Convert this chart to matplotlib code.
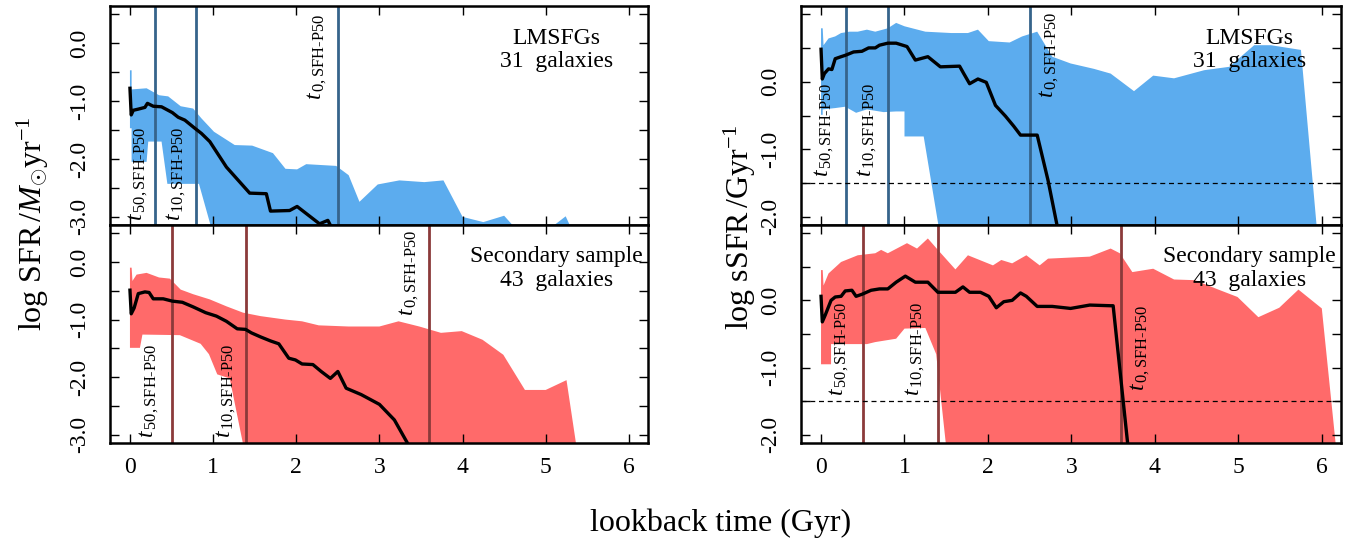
import matplotlib
matplotlib.use("Agg")
import matplotlib.pyplot as plt
import numpy as np

#---------------------------------------#
# DATA
#---------------------------------------#
# vertical marker times (Gyr)
LMSFG_T = [0.3, 0.8, 2.5]
SEC_T = [0.5, 1.4, 3.6]

# LMSFGs, log SFR : median and 16-84 envelope
tl_med_t = [0.0, 0.015, 0.04, 0.1, 0.18, 0.21, 0.28, 0.38, 0.51, 0.58, 0.66, 0.78, 0.86, 0.96,
            1.16, 1.44, 1.64, 1.69, 1.92, 2.01, 2.28, 2.38, 2.43]
tl_med = [-0.78, -1.24, -1.16, -1.14, -1.11, -1.04, -1.09, -1.10, -1.20, -1.28, -1.33, -1.47,
          -1.56, -1.70, -2.14, -2.59, -2.60, -2.90, -2.89, -2.82, -3.12, -3.06, -3.20]
tl_up_t = [0.0, 0.02, 0.02, 0.2, 0.35, 0.46, 0.61, 0.76, 0.86, 1.01, 1.26, 1.47, 1.72, 1.87, 2.01,
           2.12, 2.48, 2.63, 2.76, 2.98, 3.24, 3.54, 3.77, 4.0, 4.25, 4.5, 4.7, 4.96, 5.24, 5.34]
tl_up = [-0.47, -0.47, -0.8, -0.78, -0.9, -0.92, -1.09, -1.13, -1.3, -1.53, -1.76, -1.77, -1.9,
         -2.17, -2.18, -2.09, -2.12, -2.28, -2.74, -2.44, -2.37, -2.40, -2.37, -3.0, -3.09,
         -2.98, -3.3, -3.3, -2.99, -3.3]
tl_lo_t = [0.0, 0.02, 0.02, 0.2, 0.22, 0.38, 0.45, 0.83, 1.0, 5.34]
tl_lo = [-1.47, -1.47, -2.05, -2.05, -1.7, -1.7, -2.43, -2.43, -3.3, -3.3]

# LMSFGs, log sSFR
tr_med_t = [0.0, 0.015, 0.04, 0.09, 0.13, 0.17, 0.24, 0.29, 0.39, 0.49, 0.57, 0.65, 0.70, 0.80,
            0.90, 1.03, 1.13, 1.28, 1.43, 1.66, 1.71, 1.78, 1.88, 1.98, 2.09, 2.21, 2.31, 2.39,
            2.49, 2.59, 2.72, 2.84]
tr_med = [0.48, 0.04, 0.12, 0.19, 0.18, 0.34, 0.37, 0.39, 0.44, 0.45, 0.50, 0.50, 0.54, 0.57,
          0.57, 0.52, 0.32, 0.37, 0.22, 0.23, 0.12, -0.03, 0.04, -0.01, -0.35, -0.51, -0.66,
          -0.79, -0.79, -0.79, -1.46, -2.2]
tr_up_t = [0.0, 0.02, 0.03, 0.09, 0.17, 0.24, 0.34, 0.44, 0.55, 0.65, 0.80, 0.90, 1.0, 1.25,
           1.56, 1.76, 1.88, 2.01, 2.26, 2.41, 2.59, 2.77, 2.99, 3.27, 3.47, 3.75, 3.98, 4.23,
           4.59, 4.89, 5.19, 5.39, 5.75, 5.95]
tr_up = [0.79, 0.79, 0.54, 0.64, 0.67, 0.72, 0.74, 0.74, 0.77, 0.74, 0.79, 0.87, 0.82, 0.74,
         0.72, 0.72, 0.77, 0.6, 0.58, 0.67, 0.74, 0.37, 0.27, 0.19, 0.12, -0.14, 0.09, 0.05,
         0.17, 0.22, 0.54, 0.54, 0.47, -2.3]
tr_lo_t = [0.0, 0.02, 0.02, 0.17, 0.29, 0.42, 0.55, 0.75, 0.90, 1.0, 1.0, 1.23, 1.43, 5.95]
tr_lo = [-0.49, -0.49, -0.41, -0.39, -0.37, -0.46, -0.41, -0.45, -0.44, -0.44, -0.81, -0.81,
         -2.3, -2.3]

# Secondary sample, log SFR
bl_med_t = [0.0, 0.015, 0.05, 0.1, 0.18, 0.23, 0.28, 0.4, 0.51, 0.63, 0.76, 0.91, 1.04, 1.16,
            1.29, 1.39, 1.46, 1.57, 1.69, 1.79, 1.91, 1.99, 2.07, 2.2, 2.3, 2.41, 2.5, 2.6,
            2.78, 3.0, 3.18, 3.36]
bl_med = [-0.49, -0.9, -0.8, -0.55, -0.52, -0.53, -0.64, -0.64, -0.68, -0.70, -0.78, -0.88,
          -0.94, -1.03, -1.16, -1.17, -1.23, -1.30, -1.37, -1.42, -1.67, -1.70, -1.77, -1.78,
          -1.90, -2.02, -1.90, -2.19, -2.30, -2.47, -2.74, -3.2]
bl_up_t = [0.0, 0.02, 0.03, 0.08, 0.2, 0.35, 0.48, 0.61, 0.76, 0.96, 1.16, 1.36, 1.57, 1.87,
           2.07, 2.27, 2.63, 3.0, 3.23, 3.48, 3.74, 3.99, 4.24, 4.49, 4.75, 5.0, 5.25, 5.38]
bl_up = [-0.1, -0.1, -0.33, -0.22, -0.19, -0.27, -0.29, -0.48, -0.56, -0.65, -0.77, -0.88,
         -0.94, -1.0, -1.03, -1.1, -1.12, -1.12, -1.03, -1.12, -1.23, -1.2, -1.35, -1.61,
         -2.22, -2.22, -2.05, -3.3]
bl_lo_t = [0.0, 0.12, 0.15, 0.6, 0.85, 0.95, 1.05, 1.2, 1.38, 5.38]
bl_lo = [-1.49, -1.49, -1.26, -1.27, -1.42, -1.6, -1.95, -2.02, -3.3, -3.3]

# Secondary sample, log sSFR
br_med_t = [0.0, 0.015, 0.05, 0.12, 0.17, 0.24, 0.29, 0.37, 0.42, 0.49, 0.6, 0.7, 0.8, 0.9,
            1.01, 1.13, 1.28, 1.40, 1.61, 1.70, 1.78, 1.91, 2.01, 2.10, 2.19, 2.29, 2.39, 2.46,
            2.59, 2.77, 2.99, 3.22, 3.47, 3.5, 3.68]
br_med = [0.06, -0.32, -0.22, 0.0, 0.05, 0.06, 0.14, 0.15, 0.06, 0.09, 0.15, 0.17, 0.17, 0.27,
          0.36, 0.27, 0.27, 0.12, 0.12, 0.2, 0.12, 0.12, 0.06, -0.11, -0.02, 0.0, 0.11, 0.06,
          -0.09, -0.09, -0.12, -0.07, -0.08, -0.08, -2.2]
br_up_t = [0.0, 0.02, 0.03, 0.09, 0.24, 0.44, 0.65, 0.72, 0.80, 1.03, 1.15, 1.28, 1.40, 1.61,
           1.76, 2.06, 2.16, 2.29, 2.46, 2.62, 2.72, 3.22, 3.47, 3.58, 3.73, 3.98, 4.23, 4.48,
           4.74, 4.99, 5.24, 5.49, 5.72, 6.0, 6.18]
br_up = [0.45, 0.45, 0.22, 0.40, 0.57, 0.67, 0.70, 0.75, 0.70, 0.85, 0.77, 0.92, 0.75, 0.46,
         0.67, 0.52, 0.60, 0.55, 0.67, 0.52, 0.62, 0.65, 0.77, 0.70, 0.42, 0.47, 0.31, 0.30,
         0.17, 0.05, -0.25, -0.11, 0.16, -0.12, -2.3]
br_lo_t = [0.0, 0.12, 0.12, 0.55, 0.65, 0.9, 1.0, 1.25, 1.38, 1.51, 6.18]
br_lo = [-0.95, -0.95, -0.65, -0.65, -0.62, -0.57, -0.42, -0.41, -0.8, -2.3, -2.3]

#---------------------------------------#
# STYLE
#---------------------------------------#
BLUE_FILL = "#5CACEE"
RED_FILL = "#FF6A6A"
BLUE_LINE = "#36648B"
RED_LINE = "#8B3A3A"
XLIM = (-0.24, 6.23)
SFR_LIM = (-3.14, 0.64)
SSFR_LIM = (-2.12, 1.12)

plt.rcParams["font.family"] = ["Liberation Serif", "DejaVu Serif"]
plt.rcParams["mathtext.fontset"] = "custom"
plt.rcParams["mathtext.rm"] = "Liberation Serif"
plt.rcParams["mathtext.it"] = "Liberation Serif:italic"
plt.rcParams["axes.unicode_minus"] = False

LBL50 = r"$t_{\,50,\mathrm{SFH}\text{-}\mathrm{P50}}$"
LBL10 = r"$t_{\,10,\mathrm{SFH}\text{-}\mathrm{P50}}$"
LBL0 = r"$t_{\,0,\mathrm{SFH}\text{-}\mathrm{P50}}$"


"""
draw one panel: envelope, marker lines, median, and the t labels
"""
def draw_panel(ax, up_t, up, lo_t, lo, med_t, med, fill, lcol, vts, ylim, lbl_pos,
               text, ylabels, xlabels, dashed=False):
    poly_x = list(up_t) + list(lo_t)[::-1]
    poly_y = list(up) + list(lo)[::-1]
    ax.fill(poly_x, poly_y, color=fill, lw=0, zorder=1)
    for t in vts:
        ax.axvline(t, color=lcol, lw=2.0, zorder=2)
    if dashed:
        ax.axhline(-1.5, color="black", lw=0.9, ls=(0, (4, 3)), zorder=2)
    ax.plot(med_t, med, color="black", lw=2.4, zorder=3)

    for (x, y, va), s in zip(lbl_pos, [LBL50, LBL10, LBL0]):
        ax.text(x, y, s, rotation=90, ha="center", va=va, fontsize=17, zorder=4)

    ax.text(0.83, 0.80, text, transform=ax.transAxes, ha="center", va="center",
            fontsize=17, linespacing=1.15, zorder=4)

    ax.set_xticks(range(7))
    ax.set_yticks(ylabels)
    ax.set_yticklabels(["%.1f" % v for v in ylabels])
    ax.set_yticks(np.arange(-3.0, 1.01, 0.5), minor=True)
    # limits after the ticks so the tick lists do not widen the view
    ax.set_xlim(*XLIM)
    ax.set_ylim(*ylim)
    ax.tick_params(which="both", direction="in", length=6.5, width=1.0,
                   top=True, right=True, labelsize=17)
    ax.tick_params(axis="y", pad=14, labelrotation=90)
    ax.tick_params(axis="x", pad=10)
    for lab in ax.get_yticklabels():
        lab.set_va("center")
    if not xlabels:
        ax.tick_params(axis="x", labelbottom=False)
    for sp in ax.spines.values():
        sp.set_linewidth(1.8)


fig = plt.figure(figsize=(13.51, 5.42), dpi=100)
W, H = 1351.0, 542.0
ax_tl = fig.add_axes([110 / W, 1 - 225 / H, 538 / W, 219 / H])
ax_bl = fig.add_axes([110 / W, 1 - 443 / H, 538 / W, 218 / H])
ax_tr = fig.add_axes([801 / W, 1 - 225 / H, 540 / W, 219 / H])
ax_br = fig.add_axes([801 / W, 1 - 443 / H, 540 / W, 218 / H])

draw_panel(ax_tl, tl_up_t, tl_up, tl_lo_t, tl_lo, tl_med_t, tl_med, BLUE_FILL, BLUE_LINE,
           LMSFG_T, SFR_LIM, [(0.1, -3.07, "bottom"), (0.56, -3.07, "bottom"), (2.25, 0.5, "top")],
           "LMSFGs\n31  galaxies", [0.0, -1.0, -2.0, -3.0], False)
draw_panel(ax_bl, bl_up_t, bl_up, bl_lo_t, bl_lo, bl_med_t, bl_med, RED_FILL, RED_LINE,
           SEC_T, SFR_LIM, [(0.23, -3.05, "bottom"), (1.16, -3.05, "bottom"), (3.36, 0.55, "top")],
           "Secondary sample\n43  galaxies", [0.0, -1.0, -2.0, -3.0], True)
draw_panel(ax_tr, tr_up_t, tr_up, tr_lo_t, tr_lo, tr_med_t, tr_med, BLUE_FILL, BLUE_LINE,
           LMSFG_T, SSFR_LIM, [(0.04, -0.01, "top"), (0.55, -0.01, "top"), (2.74, 1.04, "top")],
           "LMSFGs\n31  galaxies", [0.0, -1.0, -2.0], False, dashed=True)
draw_panel(ax_br, br_up_t, br_up, br_lo_t, br_lo, br_med_t, br_med, RED_FILL, RED_LINE,
           SEC_T, SSFR_LIM, [(0.22, -0.02, "top"), (1.13, -0.02, "top"), (3.83, -0.07, "top")],
           "Secondary sample\n43  galaxies", [0.0, -1.0, -2.0], True, dashed=True)

fig.text(33 / W, 1 - 224 / H, r"log SFR$\,/M_{\odot}$yr$^{-1}$", rotation=90,
         ha="center", va="center", fontsize=23)
fig.text(740 / W, 1 - 227 / H, r"log sSFR$\,/$Gyr$^{-1}$", rotation=90,
         ha="center", va="center", fontsize=23)
fig.text(721 / W, 1 - 523 / H, "lookback time (Gyr)", ha="center", va="center", fontsize=23)

fig.savefig("out.png", dpi=100)
